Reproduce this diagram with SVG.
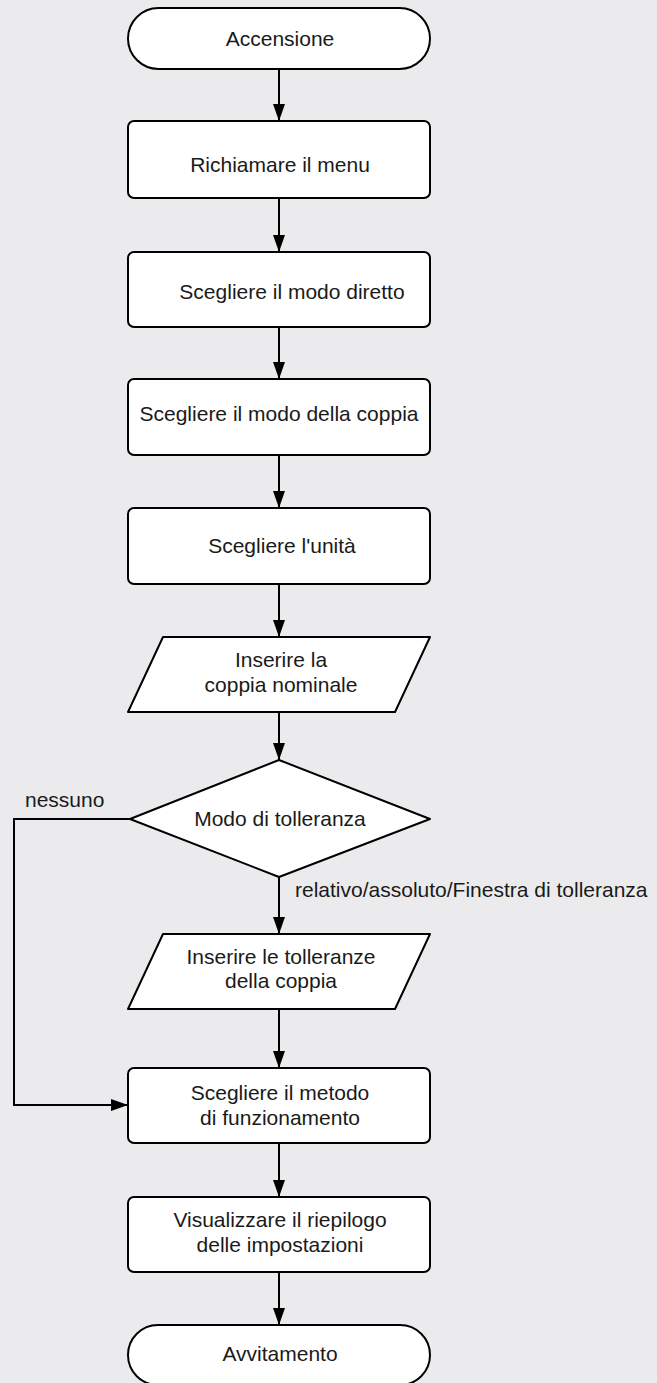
<svg xmlns="http://www.w3.org/2000/svg" width="657" height="1383" viewBox="0 0 657 1383">
<style>
.shape{fill:#ffffff;stroke:#000000;stroke-width:2;stroke-linejoin:round}
.t{font-family:"Liberation Sans",Arial,sans-serif;font-size:21px;fill:#1a1a1a;text-anchor:middle}
.lbl{font-family:"Liberation Sans",Arial,sans-serif;font-size:21px;fill:#1a1a1a}
.edge{fill:none;stroke:#000000;stroke-width:2}
</style>
<defs>
<marker id="arr" markerUnits="userSpaceOnUse" markerWidth="17" markerHeight="12" refX="17" refY="6" orient="auto">
<path d="M0,0 L17,6 L0,12 z" fill="#000000"/>
</marker>
</defs>
<rect x="0" y="0" width="657" height="1383" fill="#ebebed"/>
<g id="connectors">
<line class="edge" x1="279" y1="69" x2="279" y2="121" marker-end="url(#arr)"/>
<line class="edge" x1="279" y1="198" x2="279" y2="252" marker-end="url(#arr)"/>
<line class="edge" x1="279" y1="327" x2="279" y2="379" marker-end="url(#arr)"/>
<line class="edge" x1="279" y1="455" x2="279" y2="508" marker-end="url(#arr)"/>
<line class="edge" x1="279" y1="584" x2="279" y2="637" marker-end="url(#arr)"/>
<line class="edge" x1="279" y1="712" x2="279" y2="760" marker-end="url(#arr)"/>
<line class="edge" x1="279" y1="877" x2="279" y2="934" marker-end="url(#arr)"/>
<line class="edge" x1="279" y1="1009" x2="279" y2="1068" marker-end="url(#arr)"/>
<line class="edge" x1="279" y1="1143" x2="279" y2="1197" marker-end="url(#arr)"/>
<line class="edge" x1="279" y1="1272" x2="279" y2="1325" marker-end="url(#arr)"/>
<polyline class="edge" points="130,819 14,819 14,1105 128,1105" marker-end="url(#arr)"/>
<text class="lbl" x="25" y="807">nessuno</text>
<text class="lbl" x="295" y="897">relativo/assoluto/Finestra di tolleranza</text>
</g>
<g id="n1">
<rect class="shape" x="128" y="8" width="302" height="61" rx="30.5" ry="30.5"/>
<text class="t" x="280" y="46">Accensione</text>
</g>
<g id="n2">
<rect class="shape" x="128" y="121" width="302" height="77" rx="6"/>
<text class="t" x="280" y="172">Richiamare il menu</text>
</g>
<g id="n3">
<rect class="shape" x="128" y="252" width="302" height="75" rx="6"/>
<text class="t" x="292" y="299">Scegliere il modo diretto</text>
</g>
<g id="n4">
<rect class="shape" x="128" y="379" width="302" height="76" rx="6"/>
<text class="t" x="279" y="421">Scegliere il modo della coppia</text>
</g>
<g id="n5">
<rect class="shape" x="128" y="508" width="302" height="76" rx="6"/>
<text class="t" x="282" y="553">Scegliere l'unità</text>
</g>
<g id="n6">
<path class="shape" d="M163,637 L430,637 L395,712 L128,712 Z"/>
<text class="t" x="281" y="667">Inserire la</text>
<text class="t" x="281" y="692">coppia nominale</text>
</g>
<g id="n7">
<path class="shape" d="M279,760 L430,819 L279,877 L130,819 Z"/>
<text class="t" x="280" y="826">Modo di tolleranza</text>
</g>
<g id="n8">
<path class="shape" d="M163,934 L430,934 L395,1009 L128,1009 Z"/>
<text class="t" x="281" y="964">Inserire le tolleranze</text>
<text class="t" x="281" y="988">della coppia</text>
</g>
<g id="n9">
<rect class="shape" x="128" y="1068" width="302" height="75" rx="6"/>
<text class="t" x="280" y="1100">Scegliere il metodo</text>
<text class="t" x="280" y="1125">di funzionamento</text>
</g>
<g id="n10">
<rect class="shape" x="128" y="1197" width="302" height="75" rx="6"/>
<text class="t" x="280" y="1227">Visualizzare il riepilogo</text>
<text class="t" x="280" y="1252">delle impostazioni</text>
</g>
<g id="n11">
<rect class="shape" x="128" y="1325" width="302" height="60" rx="30" ry="30"/>
<text class="t" x="280" y="1361">Avvitamento</text>
</g>
</svg>
